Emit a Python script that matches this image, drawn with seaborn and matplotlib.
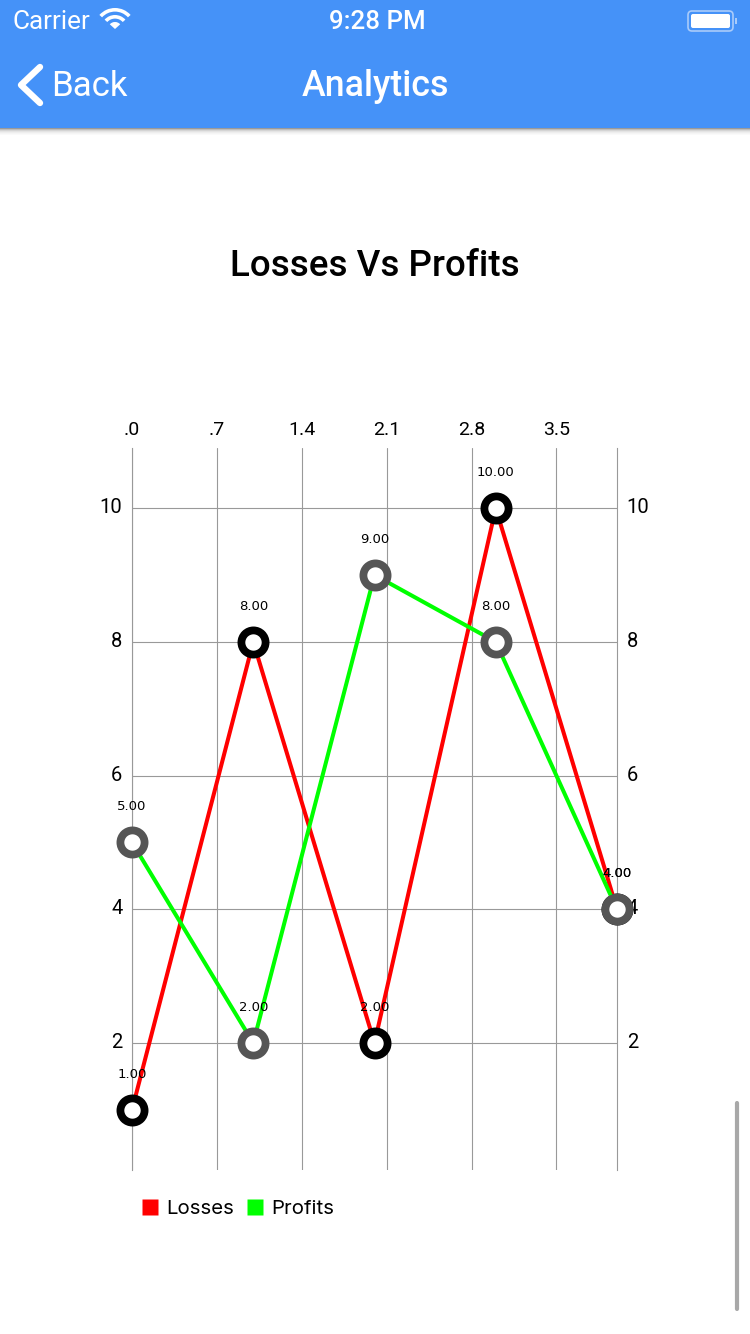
import matplotlib
matplotlib.use("Agg")
import matplotlib.pyplot as plt
import matplotlib.transforms as mtrans
import seaborn as sns
from matplotlib.lines import Line2D
from matplotlib.patches import Rectangle, Wedge, FancyBboxPatch

x_values = [0, 1, 2, 3, 4]
losses = [1, 8, 2, 10, 4]
profits = [5, 2, 9, 8, 4]
x_ticks = [0.0, 0.7, 1.4, 2.1, 2.8, 3.5]
x_tick_labels = [".0", ".7", "1.4", "2.1", "2.8", "3.5"]
y_ticks = [2, 4, 6, 8, 10]
series_names = ["Losses", "Profits"]
series_colors = ["#ff0000", "#00ff00"]
marker_edges = ["#000000", "#555555"]

sns.set_theme(style="white")
plt.rcParams["font.family"] = ["Roboto", "DejaVu Sans"]

W, H = 750, 1334
fig = plt.figure(figsize=(W / 100, H / 100), dpi=100, facecolor="white")

# App chrome, in pixel coordinates
ui = fig.add_axes([0, 0, 1, 1], zorder=0)
ui.set_xlim(0, W)
ui.set_ylim(H, 0)
ui.axis("off")
bar = "#4592f8"
ui.add_patch(Rectangle((0, 0), W, 128, fc=bar, ec="none"))
for i, c in enumerate(["#9a9a9a", "#bdbdbd", "#d4d4d4", "#e4e4e4", "#eeeeee", "#f5f5f5", "#fafafa"]):
    ui.add_patch(Rectangle((0, 128 + i), W, 1, fc=c, ec="none"))
ui.text(13, 22, "Carrier", color="white", fontsize=18.8, va="center", ha="left")
ui.text(377.5, 22, "9:28 PM", color="white", fontsize=18.6, va="center", ha="center", fontweight="medium")
ui.text(51, 86.5, "Back", color="white", fontsize=25, va="center", ha="left")
ui.text(375, 87, "Analytics", color="white", fontsize=25.7, va="center", ha="center", fontweight="medium")
ui.add_line(Line2D([40, 21, 40], [67, 85, 103], color="white", lw=4.6, solid_capstyle="round", solid_joinstyle="round"))
for r, wd in [(7, 7), (14, 3.6), (21, 3.6)]:
    ui.add_patch(Wedge((115, 29), r, 222, 318, width=wd, fc="white", ec="none"))
ui.add_patch(FancyBboxPatch((688, 11), 45, 20, boxstyle="round,pad=0,rounding_size=4", fc="none", ec="#a9cbfa", lw=1.2))
ui.add_patch(FancyBboxPatch((691, 14), 39, 14, boxstyle="round,pad=0,rounding_size=2", fc="white", ec="none"))
ui.add_patch(Rectangle((735, 18), 2, 6, fc="#a9cbfa", ec="none"))
ui.add_line(Line2D([737, 737], [1103, 1309], color="#a8a8a8", lw=3, solid_capstyle="round"))
ui.text(375, 266, "Losses Vs Profits", color="black", fontsize=26.5, va="center", ha="center", fontweight="medium")

# Chart
left, right, top, bottom = 132, 617, 448, 1170
ax = fig.add_axes([left / W, 1 - bottom / H, (right - left) / W, (bottom - top) / H], zorder=1)
ax.patch.set_alpha(0)
ax.set_axisbelow(True)
grid = "#999999"
for (name, vals, col, edge) in zip(series_names, [losses, profits], series_colors, marker_edges):
    sns.lineplot(x=x_values, y=vals, color=col, lw=2.9, marker="o", markersize=17.4, mfc="white",
                 mec=edge, mew=5.6, errorbar=None, clip_on=False, ax=ax, zorder=3)
    for xv, yv in zip(x_values, vals):
        ax.annotate(f"{yv:.2f}", (xv, yv), xytext=(0, 25.6), textcoords="offset points", ha="center",
                    va="center", fontsize=9.5, family=["DejaVu Sans"], color="black",
                    annotation_clip=False, zorder=4)
ax.set_xlim(0, 4)
ax.set_ylim(0.1, 10.9)
ax.set_xlabel("")
ax.set_ylabel("")
ax.set_xticks(x_ticks, x_tick_labels)
ax.set_yticks(y_ticks, [str(v) for v in y_ticks])
ax.tick_params(axis="x", top=False, bottom=False, labeltop=True, labelbottom=False, labelsize=14, pad=0.5, colors="black")
ax.tick_params(axis="y", left=False, right=False, labelleft=True, labelright=True, labelsize=14.5, pad=1, colors="black")
shift = mtrans.ScaledTranslation(0, 2.5 / 100, fig.dpi_scale_trans)
for tick in ax.yaxis.get_major_ticks():
    tick.label1.set_transform(tick.label1.get_transform() + shift)
    tick.label2.set_transform(tick.label2.get_transform() + shift)
ax.grid(True, color=grid, lw=0.8)
for s in ["top", "bottom"]:
    ax.spines[s].set_visible(False)
for s in ["left", "right"]:
    ax.spines[s].set_color(grid)
    ax.spines[s].set_linewidth(0.8)

handles = [Line2D([], [], ls="none", marker="s", ms=11.5, mfc=c, mec="none") for c in series_colors]
fig.legend(handles, series_names, loc="center left", bbox_to_anchor=(130 / W, 1 - 1209 / H), ncol=2,
           frameon=False, prop={"family": ["Inter", "DejaVu Sans"], "size": 14.7}, handlelength=1,
           handletextpad=0.3, columnspacing=0.5, borderpad=0, labelcolor="black")

fig.savefig("out.png", dpi=100, facecolor="white")
